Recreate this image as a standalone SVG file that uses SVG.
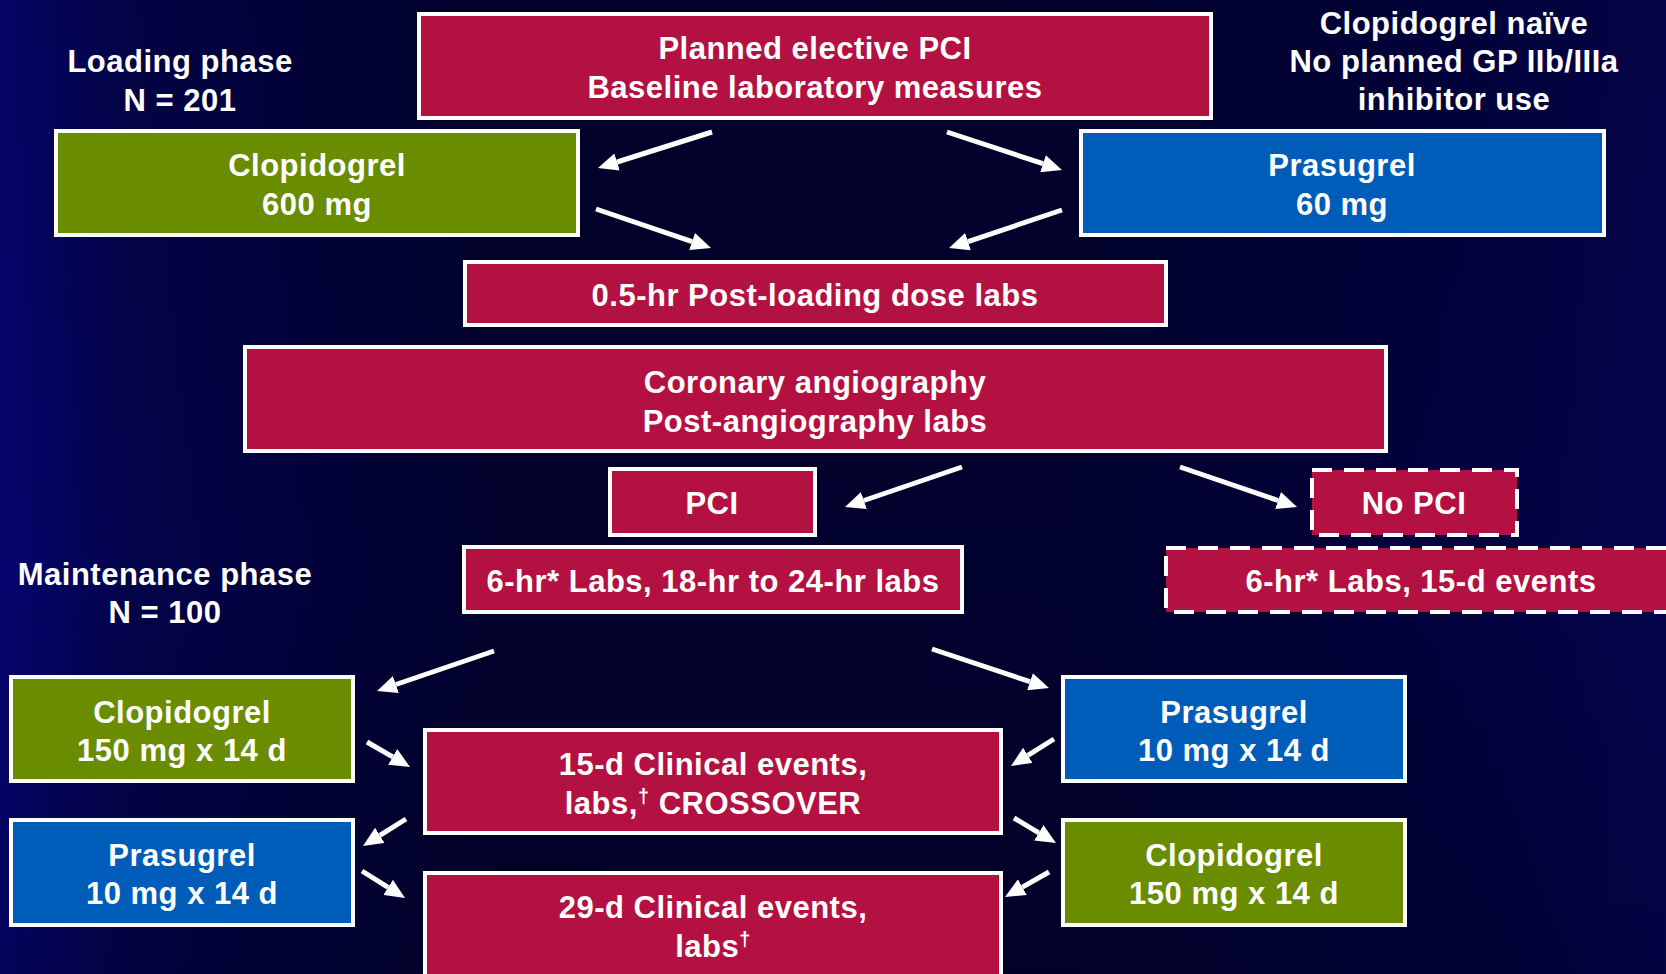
<svg xmlns="http://www.w3.org/2000/svg" width="1666" height="974" viewBox="0 0 1666 974">
  <defs>
    <linearGradient id="bg" x1="0" y1="0" x2="1" y2="0">
      <stop offset="0" stop-color="#05056e"/>
      <stop offset="0.08" stop-color="#03034a"/>
      <stop offset="0.3" stop-color="#01012c"/>
      <stop offset="0.65" stop-color="#01012e"/>
      <stop offset="0.9" stop-color="#020240"/>
      <stop offset="1" stop-color="#04044e"/>
    </linearGradient>
    <linearGradient id="bgv" x1="0" y1="0" x2="0" y2="1">
      <stop offset="0" stop-color="#000010" stop-opacity="0.1"/>
      <stop offset="0.6" stop-color="#000010" stop-opacity="0"/>
      <stop offset="1" stop-color="#000010" stop-opacity="0.2"/>
    </linearGradient>
    <marker id="ah" markerUnits="userSpaceOnUse" markerWidth="20" markerHeight="18" refX="0" refY="9" orient="auto">
      <path d="M0,0 L20,9 L0,18 z" fill="#ffffff"/>
    </marker>
    <style>
      .box { stroke: #ffffff; stroke-width: 4; }
      .red { fill: #b31141; }
      .green { fill: #6a8c00; }
      .blue { fill: #005cb9; }
      .dash { stroke-dasharray: 20 12; }
      text { font-family: "Liberation Sans", Arial, sans-serif; font-weight: bold; font-size: 31px; fill: #ffffff; text-anchor: middle; letter-spacing: 0.5px; }
      .conn line { stroke: #ffffff; stroke-width: 5; marker-end: url(#ah); }
    </style>
  </defs>

  <rect x="0" y="0" width="1666" height="974" fill="url(#bg)"/>
  <rect x="0" y="0" width="1666" height="974" fill="url(#bgv)"/>

  <g id="label-loading">
    <text x="180" y="72">Loading phase</text>
    <text x="180" y="111">N = 201</text>
  </g>
  <g id="label-naive">
    <text x="1454" y="34">Clopidogrel naïve</text>
    <text x="1454" y="72">No planned GP IIb/IIIa</text>
    <text x="1454" y="110">inhibitor use</text>
  </g>
  <g id="label-maintenance">
    <text x="165" y="585">Maintenance phase</text>
    <text x="165" y="623">N = 100</text>
  </g>

  <g id="n-planned">
    <rect class="box red" x="419" y="14" width="792" height="104"/>
    <text x="815" y="59">Planned elective PCI</text>
    <text x="815" y="98">Baseline laboratory measures</text>
  </g>
  <g id="n-clop600">
    <rect class="box green" x="56" y="131" width="522" height="104"/>
    <text x="317" y="176">Clopidogrel</text>
    <text x="317" y="215">600 mg</text>
  </g>
  <g id="n-pras60">
    <rect class="box blue" x="1081" y="131" width="523" height="104"/>
    <text x="1342" y="176">Prasugrel</text>
    <text x="1342" y="215">60 mg</text>
  </g>
  <g id="n-postload">
    <rect class="box red" x="465" y="262" width="701" height="63"/>
    <text x="815" y="306">0.5-hr Post-loading dose labs</text>
  </g>
  <g id="n-angio">
    <rect class="box red" x="245" y="347" width="1141" height="104"/>
    <text x="815" y="393">Coronary angiography</text>
    <text x="815" y="432">Post-angiography labs</text>
  </g>
  <g id="n-pci">
    <rect class="box red" x="610" y="469" width="205" height="66"/>
    <text x="712" y="514">PCI</text>
  </g>
  <g id="n-pcilabs">
    <rect class="box red" x="464" y="547" width="498" height="65"/>
    <text x="713" y="592">6-hr* Labs, 18-hr to 24-hr labs</text>
  </g>
  <g id="n-nopci">
    <rect class="box red dash" x="1312" y="470" width="205" height="65"/>
    <text x="1414" y="514">No PCI</text>
  </g>
  <g id="n-nopcilabs">
    <rect class="box red dash" x="1166" y="548" width="510" height="64"/>
    <text x="1421" y="592">6-hr* Labs, 15-d events</text>
  </g>
  <g id="n-clop150-left">
    <rect class="box green" x="11" y="677" width="342" height="104"/>
    <text x="182" y="723">Clopidogrel</text>
    <text x="182" y="761">150 mg x 14 d</text>
  </g>
  <g id="n-pras10-left">
    <rect class="box blue" x="11" y="820" width="342" height="105"/>
    <text x="182" y="866">Prasugrel</text>
    <text x="182" y="904">10 mg x 14 d</text>
  </g>
  <g id="n-15d">
    <rect class="box red" x="425" y="730" width="576" height="103"/>
    <text x="713" y="775">15-d Clinical events,</text>
    <text x="713" y="814">labs,<tspan font-size="20" dy="-11">†</tspan><tspan dy="11"> CROSSOVER</tspan></text>
  </g>
  <g id="n-29d">
    <rect class="box red" x="425" y="873" width="576" height="120"/>
    <text x="713" y="918">29-d Clinical events,</text>
    <text x="713" y="957">labs<tspan font-size="20" dy="-11">†</tspan></text>
  </g>
  <g id="n-pras10-right">
    <rect class="box blue" x="1063" y="677" width="342" height="104"/>
    <text x="1234" y="723">Prasugrel</text>
    <text x="1234" y="761">10 mg x 14 d</text>
  </g>
  <g id="n-clop150-right">
    <rect class="box green" x="1063" y="820" width="342" height="105"/>
    <text x="1234" y="866">Clopidogrel</text>
    <text x="1234" y="904">150 mg x 14 d</text>
  </g>

  <g id="connectors" class="conn">
    <line x1="712" y1="132" x2="617.1" y2="162.0"/>
    <line x1="947" y1="132" x2="1043.0" y2="163.7"/>
    <line x1="596" y1="209" x2="692.1" y2="241.6"/>
    <line x1="1062" y1="210" x2="968.0" y2="241.6"/>
    <line x1="962" y1="467" x2="863.9" y2="500.5"/>
    <line x1="1180" y1="467" x2="1278.1" y2="500.5"/>
    <line x1="494" y1="651" x2="395.9" y2="684.5"/>
    <line x1="932" y1="649" x2="1030" y2="681.7"/>
    <line x1="367" y1="742" x2="392.7" y2="756.9"/>
    <line x1="406" y1="819" x2="379.9" y2="835.4"/>
    <line x1="362" y1="871" x2="388.1" y2="887.4"/>
    <line x1="1054" y1="739" x2="1027.9" y2="755.4"/>
    <line x1="1014" y1="818" x2="1038.8" y2="832.8"/>
    <line x1="1049" y1="872" x2="1022.4" y2="887.1"/>
  </g>
</svg>
